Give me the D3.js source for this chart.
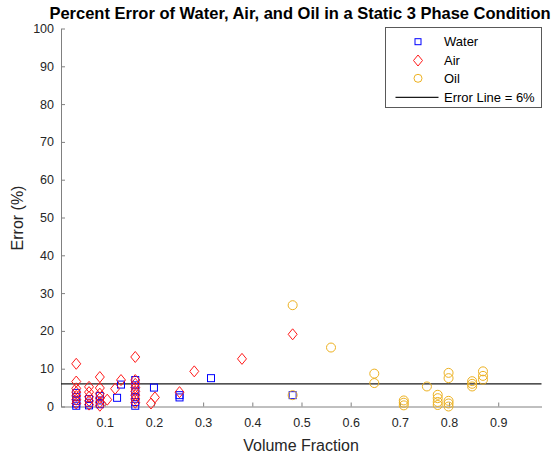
<!DOCTYPE html>
<meta charset="utf-8">
<script src="https://d3js.org/d3.v7.min.js"></script>
<style>
  body { margin: 0; background: #fff; }
  text { font-family: "Liberation Sans", Arial, Helvetica, sans-serif; }
</style>
<div id="chart"></div>
<script>
// data (volume fraction, percent error)
var waterX   = [0.042,0.042,0.042,0.042,0.042, 0.068,0.068,0.068, 0.090,0.090,0.090, 0.125, 0.133,
                0.162,0.162,0.162,0.162,0.162,0.162, 0.200, 0.252,0.252, 0.316, 0.482];
var waterErr = [0.2,0.8,1.5,2.5,3.6, 0.3,1.0,2.0, 0.6,1.6,2.8, 2.3, 5.8,
                0.2,1.2,2.5,4.0,5.6,7.0, 5.0, 2.4,3.0, 7.5, 3.0];

var airX   = [0.042,0.042,0.042,0.042,0.042,0.042,0.042, 0.068,0.068,0.068,0.068,0.068,
              0.090,0.090,0.090,0.090,0.090,0.090, 0.105, 0.121, 0.133,
              0.162,0.162,0.162,0.162,0.162,0.162,0.162,0.162, 0.194, 0.202, 0.252, 0.282, 0.379, 0.482];
var airErr = [11.3,6.6,4.8,3.8,2.8,1.8,0.8, 5.2,3.8,2.6,1.5,0.5,
              7.8,4.9,3.4,2.2,1.1,0.2, 1.8, 4.7, 7.0,
              13.1,7.0,6.0,5.0,4.0,3.0,2.0,1.0, 0.8, 2.4, 3.8, 9.3, 12.6, 19.1];

var oilX   = [0.482,0.482, 0.560, 0.648,0.648, 0.708,0.708,0.708, 0.755,
              0.777,0.777,0.777,0.777, 0.799,0.799,0.799,0.799,0.799, 0.847,0.847,0.847, 0.869,0.869,0.869];
var oilErr = [26.8,3.0, 15.6, 8.7,6.2, 0.3,1.0,1.6, 5.3,
              0.4,1.2,2.2,3.1, 0.0,0.8,1.5,7.5,8.9, 5.3,6.0,6.7, 7.1,8.1,9.3];

var errorLine = 6;
var xTicks = [0.1,0.2,0.3,0.4,0.5,0.6,0.7,0.8,0.9];
var yTicks = [0,10,20,30,40,50,60,70,80,90,100];

var W = 557, H = 454;
var svg = d3.select("#chart").append("svg")
    .attr("width", W)
    .attr("height", H);

var x = d3.scaleLinear().domain([0.011, 0.988]).range([61, 541.5]);
var y = d3.scaleLinear().domain([0, 100]).range([406.5, 28.5]);

// axes (ticks point inward like matlab)
var gx = svg.append("g")
    .attr("transform", "translate(0," + y(0) + ")")
    .call(d3.axisBottom(x).tickValues(xTicks).tickSizeInner(-4).tickSizeOuter(0).tickPadding(12)
      .tickFormat(d3.format(".1f")));
var gy = svg.append("g")
    .attr("transform", "translate(" + x.range()[0] + ",0)")
    .call(d3.axisLeft(y).tickValues(yTicks).tickSizeInner(-4).tickSizeOuter(0).tickPadding(7));

[gx, gy].forEach(function(g) {
  g.select(".domain").attr("stroke", "#808080");
  g.selectAll(".tick line").attr("stroke", "#808080");
  g.selectAll(".tick text").attr("fill", "#262626").style("font-size", "12.5px");
});

// error line
svg.append("line")
    .attr("x1", x.range()[0]).attr("x2", x.range()[1])
    .attr("y1", y(errorLine)).attr("y2", y(errorLine))
    .attr("stroke", "#1a1a1a").attr("stroke-width", 1.2);

var blue = "#0000ff", red = "#ff1a1a", orange = "#edb120";
var diamond = "M0,-5.5L4.5,0L0,5.5L-4.5,0Z";

svg.append("g").selectAll("rect")
  .data(d3.range(waterX.length))
  .join("rect")
    .attr("x", function(i) { return x(waterX[i]) - 3.5; })
    .attr("y", function(i) { return y(waterErr[i]) - 3.5; })
    .attr("width", 7).attr("height", 7)
    .attr("fill", "none").attr("stroke", blue);

svg.append("g").selectAll("path")
  .data(d3.range(airX.length))
  .join("path")
    .attr("d", diamond)
    .attr("transform", function(i) { return "translate(" + x(airX[i]) + "," + y(airErr[i]) + ")"; })
    .attr("fill", "none").attr("stroke", red);

svg.append("g").selectAll("circle")
  .data(d3.range(oilX.length))
  .join("circle")
    .attr("cx", function(i) { return x(oilX[i]); })
    .attr("cy", function(i) { return y(oilErr[i]); })
    .attr("r", 4.5)
    .attr("fill", "none").attr("stroke", orange);

// title and labels
svg.append("text")
    .attr("x", 300).attr("y", 19)
    .attr("text-anchor", "middle")
    .style("font-size", "16.5px").style("font-weight", "bold")
    .text("Percent Error of Water, Air, and Oil in a Static 3 Phase Condition");

svg.append("text")
    .attr("x", 301).attr("y", 451)
    .attr("text-anchor", "middle")
    .attr("fill", "#262626")
    .style("font-size", "16px")
    .text("Volume Fraction");

svg.append("text")
    .attr("transform", "translate(23," + 218 + ") rotate(-90)")
    .attr("text-anchor", "middle")
    .attr("fill", "#262626")
    .style("font-size", "16px")
    .text("Error (%)");

// legend
var leg = svg.append("g");
leg.append("rect")
    .attr("x", 385.5).attr("y", 27.5).attr("width", 156).attr("height", 80)
    .attr("fill", "#fff").attr("stroke", "#595959");

var legItems = ["Water", "Air", "Oil", "Error Line = 6%"];
var legY = [41.7, 60.5, 78.3, 97.3];
legItems.forEach(function(name, i) {
  leg.append("text")
      .attr("x", 444).attr("y", legY[i])
      .attr("dy", "0.35em")
      .style("font-size", "13px")
      .text(name);
});
leg.append("rect")
    .attr("x", 418 - 3).attr("y", legY[0] - 3).attr("width", 6).attr("height", 6)
    .attr("fill", "none").attr("stroke", blue);
leg.append("path")
    .attr("d", diamond)
    .attr("transform", "translate(418," + legY[1] + ")")
    .attr("fill", "none").attr("stroke", red);
leg.append("circle")
    .attr("cx", 418).attr("cy", legY[2]).attr("r", 4)
    .attr("fill", "none").attr("stroke", orange);
leg.append("line")
    .attr("x1", 395.5).attr("x2", 438.5)
    .attr("y1", legY[3]).attr("y2", legY[3])
    .attr("stroke", "#1a1a1a").attr("stroke-width", 1.2);
</script>
